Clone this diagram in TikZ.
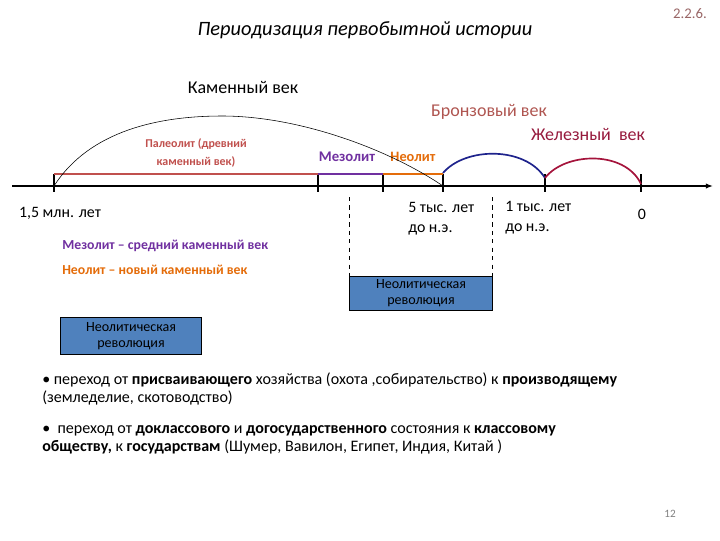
\documentclass[tikz,border=0pt]{standalone}
\usepackage{fontspec}
\setmainfont{Carlito}
\usetikzlibrary{positioning, arrows.meta, calc}

\definecolor{paleored}{RGB}{192,80,77}
\definecolor{mesopurple}{RGB}{112,48,160}
\definecolor{neoorange}{RGB}{228,108,10}
\definecolor{bronzetext}{RGB}{175,85,80}
\definecolor{irontext}{RGB}{150,25,60}
\definecolor{bronzearc}{RGB}{30,35,140}
\definecolor{ironarc}{RGB}{165,20,60}
\definecolor{boxblue}{RGB}{79,129,189}

\begin{document}
\begin{tikzpicture}[
        x=0.025cm, y=-0.025cm,
        heading/.style={
            font=\fontsize{14.5}{17}\selectfont\itshape
        },
        eralabel/.style={
            font=\fontsize{12.8}{15}\selectfont
        },
        periodlabel/.style={
            font=\fontsize{8.5}{10}\selectfont\bfseries,
            align=center
        },
        datelabel/.style={
            font=\fontsize{11.3}{14.2}\selectfont,
            align=left
        },
        legend/.style={
            font=\fontsize{9.8}{11}\selectfont\bfseries,
            anchor=west,
            inner sep=0pt
        },
        revbox/.style={
            rectangle,
            draw,
            fill=boxblue,
            align=center,
            inner sep=1pt,
            font=\fontsize{10}{11.5}\selectfont
        },
        bullettext/.style={
            font=\fontsize{11.4}{13}\selectfont,
            anchor=north west,
            align=left,
            inner sep=0pt
        },
        tick/.style={very thick},
        span/.style={thick}
        ]

        \useasboundingbox (0,0) rectangle (720,540);

        % Title and slide number
        \node[heading] (title) at (365,30) {Периодизация первобытной истории};
        \node[font=\fontsize{10.5}{12}\selectfont, text=gray!80!red] (slidenr) at (690,14) {2.2.6.};

        % Era labels
        \node[eralabel] (stone) at (243,87) {Каменный век};
        \node[eralabel, text=bronzetext] (bronze) at (489,112) {Бронзовый век};
        \node[eralabel, text=irontext] (iron) at (588,134) {Железный\ \ век};

        % Time axis
        \coordinate (axisleft) at (12,186);
        \coordinate (axisright) at (713,186);
        \draw[very thick, -{Latex[length=5pt]}] (axisleft) -- (axisright);

        \coordinate (t1) at (54,186);
        \coordinate (t2) at (318,186);
        \coordinate (t3) at (383,186);
        \coordinate (t4) at (443,186);
        \coordinate (t5) at (545,186);
        \coordinate (t6) at (641,186);
        \foreach \t in {t1,t2,t3,t4,t5,t6}
            \draw[tick] ($(\t)+(0,-12)$) -- ($(\t)+(0,6)$);

        % Period spans above the axis
        \draw[span, paleored] ($(t1)+(0,-12)$) -- ($(t2)+(0,-12)$);
        \draw[span, mesopurple] ($(t2)+(0,-12)$) -- ($(t3)+(0,-12)$);
        \draw[span, neoorange] ($(t3)+(0,-12)$) -- ($(t4)+(0,-12)$);

        \node[periodlabel, text=paleored, align=center] (paleo) at (196,153) {Палеолит (древний\\[3pt]каменный век)};
        \node[periodlabel, text=mesopurple, font=\fontsize{10.5}{12}\selectfont\bfseries] (meso) at (347,157) {Мезолит};
        \node[periodlabel, text=neoorange, font=\fontsize{10.2}{12}\selectfont\bfseries] (neo) at (413,157) {Неолит};

        % Arcs of the ages
        \draw (t1) .. controls (90,130) and (160,116) .. (222,116)
            .. controls (300,116) and (390,150) .. (t4);
        \coordinate (b1) at (443,173);
        \coordinate (b2) at (545,178);
        \coordinate (i2) at (641,184);
        \draw[very thick, bronzearc] (b1) .. controls (465,147) and (525,146) .. (b2);
        \draw[very thick, ironarc] (b2) .. controls (565,152) and (625,150) .. (i2);

        % Dates below the axis
        \node[datelabel] (d1) at (60,213) {1,5 млн. лет};
        \node[datelabel, anchor=north west, inner sep=0pt] (d4) at (408,202) {5 тыс. лет\\до н.э.};
        \node[datelabel, anchor=north west, inner sep=0pt] (d5) at (505,201) {1 тыс. лет\\до н.э.};
        \node[datelabel] (d6) at (642,214) {0};

        % Legend
        \node[legend, text=mesopurple] (legmeso) at (62,246) {Мезолит – средний каменный век};
        \node[legend, text=neoorange] (legneo) at (62,270) {Неолит – новый каменный век};

        % Neolithic revolution boxes
        \node[revbox, text width=3.5cm, minimum height=0.85cm] (revmid) at (421,293) {Неолитическая\\революция};
        \coordinate (dashl) at (349,197);
        \coordinate (dashr) at (492,197);
        \draw[dashed] (dashl) -- (dashl |- revmid.north);
        \draw[dashed] (dashr) -- (dashr |- revmid.north);
        \node[revbox, text width=3.45cm, minimum height=0.92cm] (revleft) at (131,336) {Неолитическая\\революция};

        % Consequences
        \node[bullettext] (bul1) at (42,372) {• переход от \textbf{присваивающего} хозяйства (охота ,собирательство) к \textbf{производящему}\\(земледелие, скотоводство)};
        \node[bullettext] (bul2) at (42,425) {•\ \ переход от \textbf{доклассового} и \textbf{догосударственного} состояния к \textbf{классовому}\\\textbf{обществу,} к \textbf{государствам} (Шумер, Вавилон, Египет, Индия, Китай )};

        \node[font=\fontsize{8}{10}\selectfont, text=gray] (pagenr) at (670,514) {12};

    \end{tikzpicture}
\end{document}
